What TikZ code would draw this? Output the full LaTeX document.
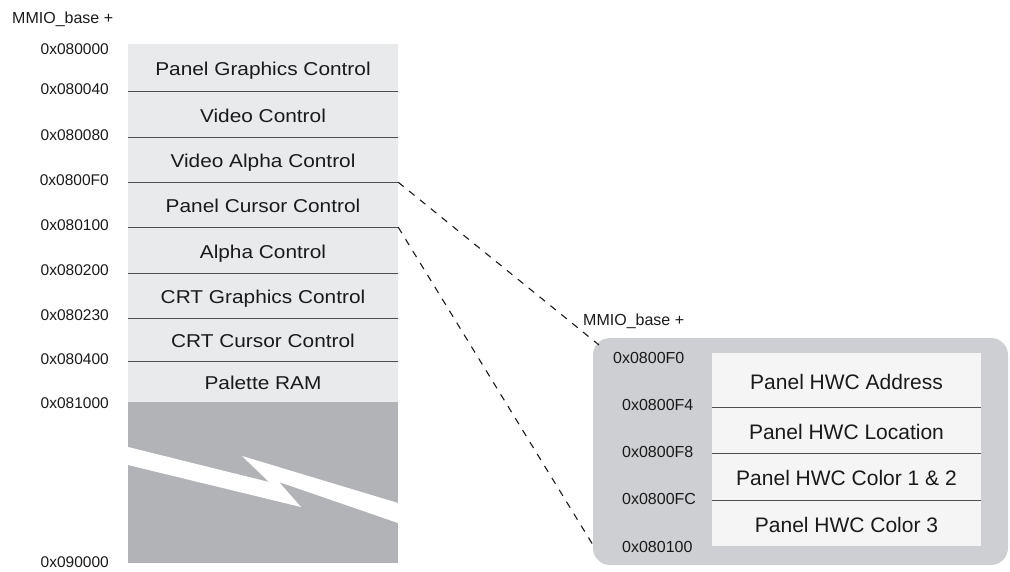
\documentclass[tikz,border=0pt]{standalone}
\usepackage{fontspec}
\setmainfont{Liberation Sans}
\newfontfamily\wideff{Liberation Sans}[FakeStretch=1.12]
\definecolor{rowfill}{HTML}{E9EAEC}
\definecolor{gapgray}{HTML}{B1B3B6}
\definecolor{panelgray}{HTML}{CDCFD2}
\definecolor{innerfill}{HTML}{F5F5F5}
\definecolor{sepline}{HTML}{4F4F4F}
\definecolor{txt}{HTML}{1A1A1A}
\begin{document}
\begin{tikzpicture}[x=1pt,y=-1pt,
  leftrow/.style={rectangle, fill=rowfill, inner sep=0pt, minimum width=270pt,
    text height=16.3pt, text depth=0pt, text=txt,
    font=\wideff\fontsize{18.6}{20}\selectfont},
  rightrow/.style={rectangle, fill=innerfill, inner sep=0pt, minimum width=269pt,
    text height=18pt, text depth=0pt, text=txt,
    font=\fontsize{21}{24}\selectfont},
  addr/.style={inner sep=0pt, text=txt, font=\fontsize{15.5}{18}\selectfont},
  haddr/.style={inner sep=0pt, text=txt, font=\fontsize{16}{18}\selectfont},
  mmio/.style={inner sep=0pt, text=txt, font=\fontsize{16}{18}\selectfont},
  sep/.style={draw=sepline, line width=1.1pt},
  link/.style={draw=txt, line width=1.1pt, dash pattern=on 7pt off 7pt}
]
\useasboundingbox (0,0) rectangle (1010,572);

% left column
\node[leftrow, minimum height=47pt] (r1) at (263,67.5) {Panel Graphics Control};
\node[leftrow, minimum height=46pt] (r2) at (263,114) {Video Control};
\node[leftrow, minimum height=45pt] (r3) at (263,159.5) {Video Alpha Control};
\node[leftrow, minimum height=45pt] (r4) at (263,204.5) {Panel Cursor Control};
\node[leftrow, minimum height=46pt] (r5) at (263,250) {Alpha Control};
\node[leftrow, minimum height=45pt] (r6) at (263,295.5) {CRT Graphics Control};
\node[leftrow, minimum height=43pt] (r7) at (263,339.5) {CRT Cursor Control};
\node[leftrow, minimum height=41pt] (r8) at (263,381.5) {Palette RAM};
\node[rectangle, fill=gapgray, inner sep=0pt, minimum width=270pt, minimum height=161pt] (gap) at (263,482.5) {};
\fill[white] (128,447) -- (269,482) -- (242,456) -- (398,503) -- (398,523) -- (279,482) -- (301,507) -- (128,465) -- cycle;

\foreach \r in {r1,r2,r3,r4,r5,r6,r7}
  \draw[sep] (\r.south west) -- (\r.south east);

% left addresses
\node[mmio, anchor=base west] (m1) at (12,24) {MMIO\_base +};
\node[addr, anchor=east] (a0) at (109,49) {0x080000};
\node[addr, anchor=east] (a1) at (109,89) {0x080040};
\node[addr, anchor=east] (a2) at (109,135) {0x080080};
\node[addr, anchor=east] (a3) at (109,180) {0x0800F0};
\node[addr, anchor=east] (a4) at (109,225) {0x080100};
\node[addr, anchor=east] (a5) at (109,270) {0x080200};
\node[addr, anchor=east] (a6) at (109,315) {0x080230};
\node[addr, anchor=east] (a7) at (109,359) {0x080400};
\node[addr, anchor=east] (a8) at (109,403) {0x081000};
\node[addr, anchor=east] (a9) at (109,562) {0x090000};

% right panel
\node[rectangle, fill=panelgray, rounded corners=17pt, inner sep=0pt,
  minimum width=415pt, minimum height=227pt] (panel) at (800.5,451.5) {};
\node[rightrow, minimum height=54pt] (q1) at (846.5,380) {Panel HWC Address};
\node[rightrow, minimum height=46pt] (q2) at (846.5,430) {Panel HWC Location};
\node[rightrow, minimum height=47pt] (q3) at (846.5,476.5) {Panel HWC Color 1 \& 2};
\node[rightrow, minimum height=46pt] (q4) at (846.5,523) {Panel HWC Color 3};
\foreach \r in {q1,q2,q3}
  \draw[sep] (\r.south west) -- (\r.south east);

\node[mmio, anchor=base west] (m2) at (583,325) {MMIO\_base +};
\node[haddr, anchor=west] (h0) at (613,358) {0x0800F0};
\node[haddr, anchor=west] (h1) at (622,405) {0x0800F4};
\node[haddr, anchor=west] (h2) at (622,452) {0x0800F8};
\node[haddr, anchor=west] (h3) at (622,499) {0x0800FC};
\node[haddr, anchor=west] (h4) at (622,547) {0x080100};

% dashed connectors
\coordinate (p1) at (599,345);
\coordinate (p2) at (593,545);
\draw[link] (r3.south east) -- (p1);
\draw[link] (r4.south east) -- (p2);
\end{tikzpicture}
\end{document}
